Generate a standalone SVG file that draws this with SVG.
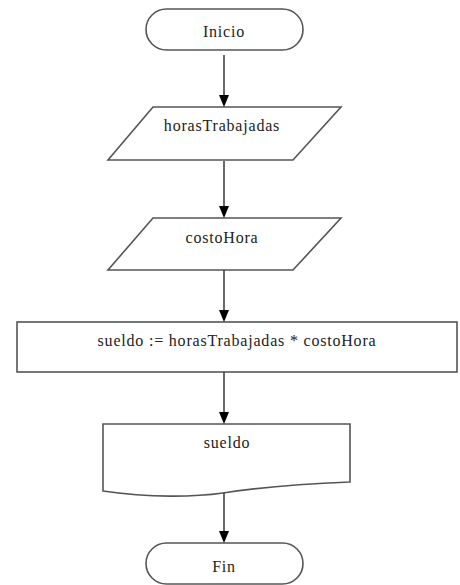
<svg xmlns="http://www.w3.org/2000/svg" width="460" height="585" viewBox="0 0 460 585">
<defs>
<style>
.shape{fill:#fff;stroke:#555;stroke-width:1.6}
.lbl{font-family:"Liberation Serif","Times New Roman","DejaVu Serif",serif;font-size:16px;letter-spacing:0.8px;fill:#222;text-anchor:middle}
.conn{stroke:#444;stroke-width:1.6;fill:none}
.head{fill:#000}
</style>
</defs>
<rect width="460" height="585" fill="#fff"/>
<g id="inicio">
<rect class="shape" x="146" y="9" width="157" height="41" rx="20.5" ry="20.5"/>
<text class="lbl" x="224" y="37">Inicio</text>
</g>
<g id="horasTrabajadas">
<polygon class="shape" points="153,107 341,107 293,160 108,160"/>
<text class="lbl" x="222" y="131">horasTrabajadas</text>
</g>
<g id="costoHora">
<polygon class="shape" points="153,218 341,218 293,270 108,270"/>
<text class="lbl" x="222" y="243">costoHora</text>
</g>
<g id="calculo">
<rect class="shape" x="17" y="322" width="440" height="50"/>
<text class="lbl" x="237" y="346">sueldo := horasTrabajadas * costoHora</text>
</g>
<g id="salida">
<path class="shape" d="M103,424 H350 V482 C300,484 255,488 223,493 C195,497 150,498 103,491 Z"/>
<text class="lbl" x="227" y="448">sueldo</text>
</g>
<g id="fin">
<rect class="shape" x="146" y="543" width="157" height="41" rx="20.5" ry="20.5"/>
<text class="lbl" x="224" y="572">Fin</text>
</g>
<g id="connectors">
<path class="conn" d="M224,55 V95"/>
<path class="head" d="M219,95 L229,95 L224,107 Z"/>
<path class="conn" d="M224,161 V206"/>
<path class="head" d="M219,206 L229,206 L224,218 Z"/>
<path class="conn" d="M224,270 V310"/>
<path class="head" d="M219,310 L229,310 L224,322 Z"/>
<path class="conn" d="M224,372 V412"/>
<path class="head" d="M219,412 L229,412 L224,424 Z"/>
<path class="conn" d="M224,493 V531"/>
<path class="head" d="M219,531 L229,531 L224,543 Z"/>
</g>
</svg>
